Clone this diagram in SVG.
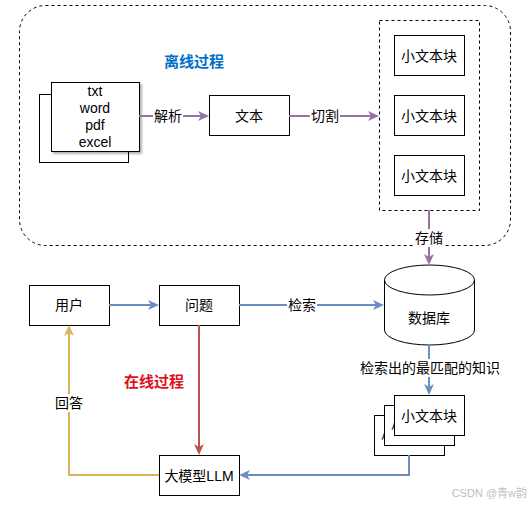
<svg xmlns="http://www.w3.org/2000/svg" width="530" height="505" viewBox="0 0 530 505">
<style>
text{font-family:"Liberation Sans","Noto Sans CJK SC",sans-serif;font-size:14px;fill:#000;text-anchor:middle;dominant-baseline:central}
.box{fill:#fff;stroke:#000;stroke-width:1}
.conn{fill:none;stroke-width:2}
.p{stroke:#9673A6}.b{stroke:#6C8EBF}.r{stroke:#B85450}.y{stroke:#D6B656}
.lbg{fill:#fff}
.title{font-size:15px;font-weight:bold}
</style>
<defs>
<filter id="sh" x="-10%" y="-10%" width="130%" height="130%"><feDropShadow dx="2" dy="2" stdDeviation="1.2" flood-color="#000" flood-opacity="0.3"/></filter>
<clipPath id="c2"><rect x="384" y="405" width="10" height="41"/><rect x="384" y="436" width="71" height="10"/></clipPath>
<clipPath id="c1"><rect x="374" y="415" width="10" height="41"/><rect x="374" y="446" width="71" height="10"/></clipPath>
<marker id="mp" markerUnits="userSpaceOnUse" markerWidth="12" markerHeight="11" refX="3" refY="5" orient="auto"><path d="M0,0 L11,5 L0,10 L3,5 Z" fill="#9673A6"/></marker>
<marker id="mb" markerUnits="userSpaceOnUse" markerWidth="12" markerHeight="11" refX="3" refY="5" orient="auto"><path d="M0,0 L11,5 L0,10 L3,5 Z" fill="#6C8EBF"/></marker>
<marker id="mr" markerUnits="userSpaceOnUse" markerWidth="12" markerHeight="11" refX="3" refY="5" orient="auto"><path d="M0,0 L11,5 L0,10 L3,5 Z" fill="#B85450"/></marker>
<marker id="my" markerUnits="userSpaceOnUse" markerWidth="12" markerHeight="11" refX="3" refY="5" orient="auto"><path d="M0,0 L11,5 L0,10 L3,5 Z" fill="#D6B656"/></marker>
</defs>
<rect width="530" height="505" fill="#fff"/>
<g id="offline-group">
<rect x="19.5" y="5.5" width="491" height="240" rx="26" fill="none" stroke="#000" stroke-dasharray="3,3"/>
<text class="title" x="194" y="61" style="fill:#0070C9">离线过程</text>
</g>
<g id="chunks-container">
<rect x="379.5" y="20.5" width="100" height="190" fill="none" stroke="#000" stroke-dasharray="3,3"/>
</g>
<g id="docs">
<rect class="box" x="39.5" y="94.5" width="89" height="68"/>
<rect class="box" x="51.5" y="82.5" width="88" height="69" filter="url(#sh)"/>
<text x="95" y="91">txt</text>
<text x="95" y="108">word</text>
<text x="95" y="125">pdf</text>
<text x="95" y="142">excel</text>
</g>
<g id="text-node">
<rect class="box" x="209.5" y="95.5" width="80" height="40"/>
<text x="249" y="116">文本</text>
</g>
<g id="chunk1"><rect class="box" x="394.5" y="35.5" width="70" height="40"/><text x="429" y="56">小文本块</text></g>
<g id="chunk2"><rect class="box" x="394.5" y="95.5" width="70" height="40"/><text x="429" y="116">小文本块</text></g>
<g id="chunk3"><rect class="box" x="394.5" y="155.5" width="70" height="40"/><text x="429" y="176">小文本块</text></g>
<g id="database">
<path class="box" d="M384.5,280 A45,15 0 0 1 474.5,280 V330 A45,15 0 0 1 384.5,330 Z"/>
<path d="M384.5,280 A45,15 0 0 0 474.5,280" fill="none" stroke="#000"/>
<text x="429" y="318">数据库</text>
</g>
<g id="user"><rect class="box" x="29.5" y="285.5" width="80" height="40"/><text x="69" y="305">用户</text></g>
<g id="question"><rect class="box" x="159.5" y="285.5" width="80" height="40"/><text x="199" y="305">问题</text></g>
<g id="llm"><rect class="box" x="159.5" y="455.5" width="80" height="40"/><text x="199" y="476">大模型LLM</text></g>
<g id="retrieved">
<rect class="box" x="374.5" y="415.5" width="70" height="40"/><text x="409" y="436" clip-path="url(#c1)">小文本块</text>
<rect class="box" x="384.5" y="405.5" width="70" height="40"/><text x="419" y="426" clip-path="url(#c2)">小文本块</text>
<rect class="box" x="394.5" y="395.5" width="70" height="40"/><text x="429" y="416">小文本块</text>
</g>
<g id="online-label">
<text class="title" x="154" y="381" style="fill:#E0101E">在线过程</text>
</g>
<g id="connectors">
<path class="conn p" d="M139,116 H201" marker-end="url(#mp)"/>
<rect class="lbg" x="153" y="108" width="30" height="16"/><text x="168" y="116">解析</text>
<path class="conn p" d="M289,116 H371" marker-end="url(#mp)"/>
<rect class="lbg" x="310" y="108" width="30" height="16"/><text x="325" y="116">切割</text>
<path class="conn p" d="M429,210 V257" marker-end="url(#mp)"/>
<rect class="lbg" x="414" y="229" width="30" height="18"/><text x="429" y="238">存储</text>
<path class="conn b" d="M109,305 H151" marker-end="url(#mb)"/>
<path class="conn b" d="M239,305 H376" marker-end="url(#mb)"/>
<rect class="lbg" x="287" y="297" width="30" height="16"/><text x="302" y="305">检索</text>
<path class="conn r" d="M199,325 V447" marker-end="url(#mr)"/>
<path class="conn y" d="M159,475 H69 V333" marker-end="url(#my)"/>
<rect class="lbg" x="54" y="394" width="30" height="18"/><text x="69" y="403">回答</text>
<path class="conn b" d="M429,345 V387" marker-end="url(#mb)"/>
<rect class="lbg" x="358" y="359" width="144" height="18"/><text x="430" y="368">检索出的最匹配的知识</text>
<path class="conn b" d="M409,455 V475 H247" marker-end="url(#mb)"/>
</g>
<text x="527" y="493" style="font-size:11px;fill:#c0c0c0;text-anchor:end">CSDN @青w韵</text>
</svg>
